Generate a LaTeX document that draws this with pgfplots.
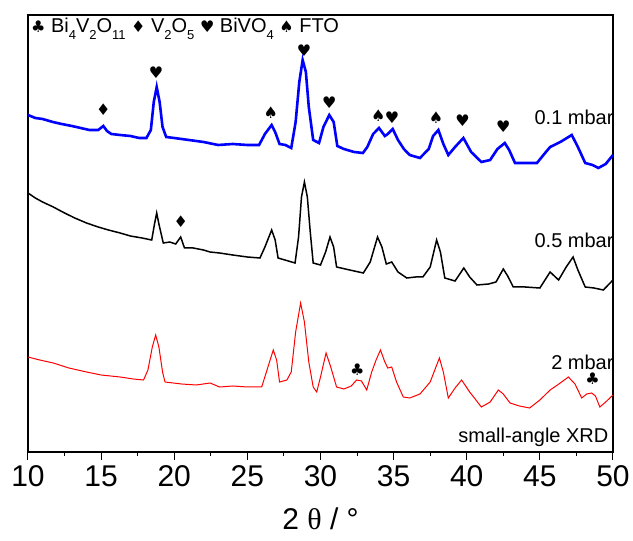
\documentclass[border=0pt]{standalone}
\usepackage{fontspec}
\setmainfont{Liberation Sans}
\newfontfamily\dejavu{DejaVu Sans}
\newfontfamily\greek{Liberation Serif}
\usepackage{pgfplots}
\pgfplotsset{compat=1.18}
\newcommand\sub[1]{\raisebox{-0.38em}{\fontsize{13}{13}\selectfont #1}}
\newcommand\suit[1]{{\dejavu\fontsize{16}{16}\selectfont #1}}
\begin{document}
\begin{tikzpicture}
\useasboundingbox (-28pt,-89pt) rectangle (605pt,452pt);
\begin{axis}[
  scale only axis, width=585pt, height=437pt,
  xmin=10, xmax=50, ymin=0, ymax=437,
  xtick={10,15,...,50}, minor x tick num=1, ytick=\empty,
  xtick pos=left, tick align=outside,
  major tick length=8pt, minor tick length=4pt,
  axis line style={line width=1.1pt}, tick style={black, line width=1pt},
  /pgf/number format/assume math mode=true,
  xticklabel style={font=\fontsize{30}{30}\selectfont, yshift=-2pt},
  xlabel={2 {\greek θ} / °},
  xlabel style={font=\fontsize{30}{30}\selectfont, yshift=-14pt},
  clip=false,
]
% 0.1 mbar
\addplot[blue, line width=2.6pt] coordinates {
(10,337) (10.5,334) (11,333) (11.7,330) (12.3,328) (13,326) (13.6,324) (14.2,322) (14.8,322) (15.15,326) (15.4,321) (15.7,318) (16.3,317) (17,316) (17.6,314) (18.1,314) (18.4,322) (18.6,350) (18.8,365) (19.0,350) (19.2,325) (19.45,315) (20,314) (21,312) (22,310) (23,307) (24,308) (25,307) (25.8,307) (26.2,318) (26.66,327) (26.9,320) (27.2,308) (27.6,307) (28,304) (28.3,330) (28.55,370) (28.78,392) (29.0,380) (29.2,345) (29.5,312) (29.9,309) (30.2,325) (30.6,337) (30.9,330) (31.15,306) (31.6,303) (32.3,300) (32.9,299) (33.2,305) (33.6,318) (34.0,324) (34.4,316) (34.6,318) (34.94,323) (35.3,312) (35.7,303) (36.1,297) (36.8,294) (37.4,303) (37.7,316) (38.06,322) (38.4,308) (38.74,297) (39.2,305) (39.77,314) (40.3,300) (41.0,290) (41.6,292) (42.1,303) (42.6,309) (42.9,302) (43.3,289) (44.0,289) (44.8,289) (45.3,298) (45.7,305) (46.4,310) (47.18,317) (47.6,305) (48.1,289) (48.6,287) (49.0,284) (49.5,288) (50,297)};
% 0.5 mbar
\addplot[black, line width=1.5pt] coordinates {
(10,259) (10.5,254) (11,250) (11.73,245) (12.5,239) (13.2,234) (14,229) (14.8,225) (15.5,222) (16.3,219) (17,216) (17.8,214) (18.46,212) (18.65,228) (18.8,239) (18.95,228) (19.25,209) (19.7,210) (20.1,208) (20.44,215) (20.7,204) (21.3,204) (22,202) (22.45,200) (23.1,199) (24,197) (25,195) (25.86,194) (26.2,205) (26.66,222) (26.9,212) (27.1,194) (27.8,191) (28.26,189) (28.5,215) (28.7,255) (28.9,270) (29.1,255) (29.3,220) (29.5,189) (30,187) (30.35,200) (30.65,215) (30.9,205) (31.1,185) (32,182) (32.93,179) (33.4,190) (33.9,215) (34.2,205) (34.5,188) (34.87,190) (35.3,180) (35.9,174) (36.5,175) (37,175) (37.5,185) (37.94,212) (38.2,200) (38.5,174) (39.2,171) (39.8,184) (40.2,175) (40.7,167) (41.5,168) (42.0,170) (42.5,183) (42.8,176) (43.18,165) (44,165) (45.0,164) (45.7,180) (46.28,172) (46.8,185) (47.27,195) (47.6,182) (48.1,165) (48.7,164) (49.34,162) (50,172)};
% 2 mbar
\addplot[red, line width=1pt] coordinates {
(10,95) (10.8,92) (11.73,89) (12.8,84) (14,80) (15,77) (16.3,75) (17.2,73) (17.9,72) (18.2,82) (18.5,105) (18.73,117) (18.95,105) (19.2,80) (19.37,70) (20.5,68) (21.5,67) (22.45,69) (23.1,65) (24,66) (25,65) (25.98,65) (26.3,80) (26.77,102) (27,92) (27.2,70) (27.7,72) (28,80) (28.3,120) (28.64,149) (28.9,130) (29.2,90) (29.5,65) (29.74,60) (30.0,75) (30.38,99) (30.7,85) (31.1,65) (31.6,63) (32.1,66) (32.47,72) (32.8,71) (33.16,62) (33.5,80) (33.8,92) (34.1,102) (34.4,90) (34.6,84) (34.87,85) (35.2,70) (35.66,55) (36.1,54) (36.8,58) (37.5,70) (38.13,94) (38.4,80) (38.74,54) (39.2,64) (39.65,72) (40.2,60) (41.0,45) (41.6,50) (42.16,62) (42.5,58) (42.96,49) (43.6,46) (44.3,44) (45.0,52) (45.7,62) (46.3,68) (46.95,75) (47.4,68) (47.86,54) (48.2,58) (48.54,59) (48.8,56) (49.1,45) (49.5,50) (50,57)};
% phase markers
\node at (axis cs:15.15,342) {\suit{♦}};
\node at (axis cs:18.75,379) {\suit{♥}};
\node at (axis cs:26.6,339) {\suit{♠}};
\node at (axis cs:28.87,401) {\suit{♥}};
\node at (axis cs:30.6,349) {\suit{♥}};
\node at (axis cs:33.95,336) {\suit{♠}};
\node at (axis cs:34.89,334) {\suit{♥}};
\node at (axis cs:37.9,334) {\suit{♠}};
\node at (axis cs:39.72,331) {\suit{♥}};
\node at (axis cs:42.5,325) {\suit{♥}};
\node at (axis cs:20.44,230) {\suit{♦}};
\node at (axis cs:32.52,82) {\suit{♣}};
\node at (axis cs:48.6,73) {\suit{♣}};
% labels
\node[anchor=east, inner sep=0pt, font=\fontsize{20}{20}\selectfont] at (axis cs:50.05,335) {0.1 mbar};
\node[anchor=east, inner sep=0pt, font=\fontsize{20}{20}\selectfont] at (axis cs:50.05,212) {0.5 mbar};
\node[anchor=east, inner sep=0pt, font=\fontsize{20}{20}\selectfont] at (axis cs:50.05,90) {2 mbar};
\node[anchor=east, inner sep=0pt, font=\fontsize{20}{20}\selectfont] at (axis cs:49.7,15) {small-angle XRD};
\node[anchor=west, inner sep=0pt, font=\fontsize{20}{20}\selectfont] at (axis cs:10.2,423) {\suit{♣} Bi\sub{4}V\sub{2}O\sub{11} \suit{♦} V\sub{2}O\sub{5} \suit{♥} BiVO\sub{4} \suit{♠} FTO};
\end{axis}
\end{tikzpicture}
\end{document}
